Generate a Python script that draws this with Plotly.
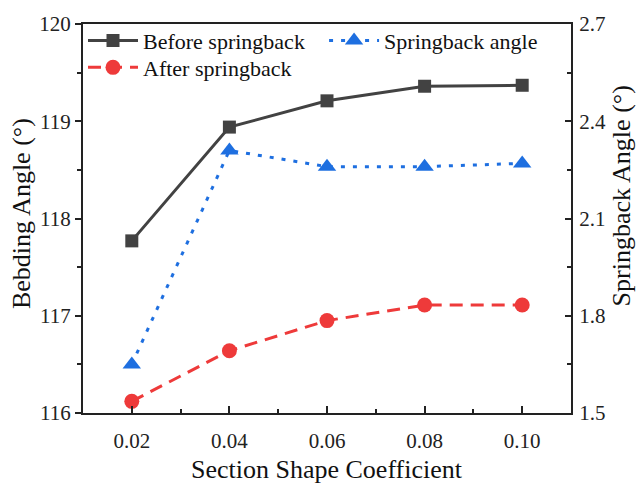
import plotly.graph_objects as go

x_vals = [0.02, 0.04, 0.06, 0.08, 0.10]
x_ticktext = ["0.02", "0.04", "0.06", "0.08", "0.10"]
before = [117.77, 118.94, 119.21, 119.36, 119.37]
after = [116.12, 116.64, 116.95, 117.11, 117.11]
springback = [1.65, 2.31, 2.26, 2.26, 2.27]

FONT = "Times New Roman"
AXC = "#222222"

fig = go.Figure()
fig.add_trace(go.Scatter(
    x=x_vals, y=before, name="Before springback", mode="lines+markers",
    line=dict(color="#424242", width=3),
    marker=dict(symbol="square", size=13, color="#424242"),
    legend="legend"))
fig.add_trace(go.Scatter(
    x=x_vals, y=after, name="After springback", mode="lines+markers",
    line=dict(color="#EE3A3A", width=3, dash="13px,8px"),
    marker=dict(symbol="circle", size=15, color="#EE3A3A"),
    legend="legend3"))
fig.add_trace(go.Scatter(
    x=x_vals, y=springback, name="Springback angle", mode="lines+markers",
    line=dict(color="#1E6FE0", width=3, dash="4px,8px"),
    marker=dict(symbol="triangle-up", size=16, color="#1E6FE0"),
    yaxis="y2", legend="legend2"))

leg_common = dict(xanchor="left", yanchor="middle", bgcolor="rgba(0,0,0,0)",
                  font=dict(size=22, family=FONT, color="#111111"), itemwidth=50)

fig.update_layout(
    width=640, height=486,
    margin=dict(l=83, r=69, t=22, b=73),
    paper_bgcolor="white", plot_bgcolor="white",
    font=dict(family=FONT, size=21, color=AXC),
    showlegend=True,
    xaxis=dict(
        range=[0.01, 0.11], tickvals=x_vals, ticktext=x_ticktext,
        showgrid=False, zeroline=False,
        showline=True, linecolor=AXC, linewidth=2, mirror=True,
        ticks="inside", ticklen=7, tickwidth=2, tickcolor=AXC,
        minor=dict(tickvals=[0.03, 0.05, 0.07, 0.09], ticks="inside", ticklen=4, tickwidth=2, tickcolor=AXC),
        tickfont=dict(size=21), ticklabelstandoff=8,
    ),
    yaxis=dict(
        range=[116, 120], tickvals=[116, 117, 118, 119, 120],
        showgrid=False, zeroline=False,
        showline=True, linecolor=AXC, linewidth=2,
        ticks="outside", ticklen=6, tickwidth=2, tickcolor=AXC,
        minor=dict(tickvals=[116.5, 117.5, 118.5, 119.5], ticks="outside", ticklen=4, tickwidth=2, tickcolor=AXC),
        tickfont=dict(size=21),
    ),
    yaxis2=dict(
        range=[1.5, 2.7], tickvals=[1.5, 1.8, 2.1, 2.4, 2.7], ticktext=["1.5", "1.8", "2.1", "2.4", "2.7"],
        overlaying="y", side="right",
        showgrid=False, zeroline=False,
        showline=True, linecolor=AXC, linewidth=2,
        ticks="inside", ticklen=6, tickwidth=2, tickcolor=AXC,
        minor=dict(tickvals=[1.65, 1.95, 2.25, 2.55], ticks="inside", ticklen=4, tickwidth=2, tickcolor=AXC),
        tickfont=dict(size=21), ticklabelstandoff=2,
    ),
    legend=dict(x=0.0, y=0.957, **leg_common),
    legend3=dict(x=0.0, y=0.888, **leg_common),
    legend2=dict(x=0.494, y=0.957, **leg_common),
    annotations=[
        dict(text="Section Shape Coefficient", xref="paper", yref="paper", x=0.5, y=-0.146,
             xanchor="center", yanchor="middle", showarrow=False, font=dict(size=26, family=FONT, color="#111111")),
        dict(text="Bebding Angle (°)", xref="paper", yref="paper", x=-0.127, y=0.5115, textangle=-90,
             xanchor="center", yanchor="middle", showarrow=False, font=dict(size=26, family=FONT, color="#111111")),
        dict(text="Springback Angle (°)", xref="paper", yref="paper", x=1.103, y=0.5575, textangle=-90,
             xanchor="center", yanchor="middle", showarrow=False, font=dict(size=26, family=FONT, color="#111111")),
    ],
)

fig.write_html("out.html")
